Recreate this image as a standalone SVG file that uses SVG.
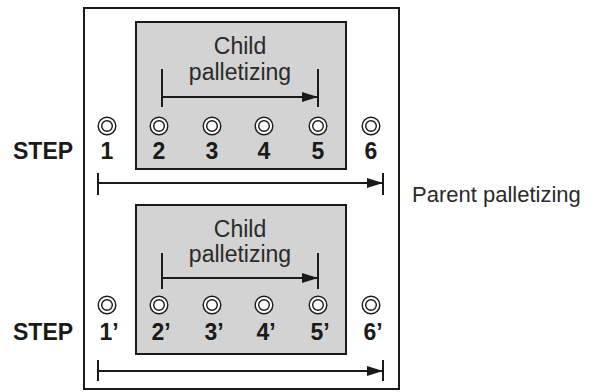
<svg xmlns="http://www.w3.org/2000/svg" width="614" height="392" viewBox="0 0 614 392">
<style>
.frame{fill:#fff;stroke:#1a1a1a;stroke-width:2}
.box{fill:#d3d3d3;stroke:#1a1a1a;stroke-width:2}
.ln{stroke:#1a1a1a;stroke-width:2;fill:none}
.ring{fill:#fff;stroke:#1a1a1a;stroke-width:1.4}
.lbl{font-family:"Liberation Sans",Arial,sans-serif;font-size:23px;fill:#2a2a2a;text-anchor:middle}
.num{font-family:"Liberation Sans",Arial,sans-serif;font-size:23px;font-weight:bold;fill:#1a1a1a;text-anchor:middle}
.step{font-family:"Liberation Sans",Arial,sans-serif;font-size:23px;font-weight:bold;fill:#1a1a1a}
.par{font-family:"Liberation Sans",Arial,sans-serif;font-size:22px;fill:#2a2a2a}
</style>
<defs>
<marker id="ah" viewBox="0 0 16 10" refX="16" refY="5" markerWidth="16" markerHeight="10" markerUnits="userSpaceOnUse" orient="auto">
<path d="M0,0 L16,5 L0,10 Z" fill="#1a1a1a"/>
</marker>
<g id="pt"><circle r="8.8" class="ring"/><circle r="5.3" class="ring"/></g>
</defs>
<rect id="frame" x="84" y="8" width="315" height="381" class="frame"/>
<g id="child-upper">
<rect x="136" y="22" width="210" height="147" class="box"/>
<text class="lbl" x="240" y="54">Child</text>
<text class="lbl" x="240" y="80">palletizing</text>
</g>
<g id="child-lower">
<rect x="136" y="205" width="210" height="149" class="box"/>
<text class="lbl" x="240" y="237">Child</text>
<text class="lbl" x="240" y="262">palletizing</text>
</g>
<g id="points-upper">
<use href="#pt" x="107" y="126"/><use href="#pt" x="159" y="126"/><use href="#pt" x="212" y="126"/>
<use href="#pt" x="264" y="126"/><use href="#pt" x="318" y="126"/><use href="#pt" x="371" y="126"/>
<text class="num" x="107" y="159">1</text><text class="num" x="159" y="159">2</text><text class="num" x="212" y="159">3</text>
<text class="num" x="264" y="159">4</text><text class="num" x="318" y="159">5</text><text class="num" x="371" y="159">6</text>
</g>
<g id="points-lower">
<use href="#pt" x="107" y="305"/><use href="#pt" x="159" y="305"/><use href="#pt" x="212" y="305"/>
<use href="#pt" x="264" y="305"/><use href="#pt" x="318" y="305"/><use href="#pt" x="371" y="305"/>
<text class="num" x="109" y="340">1’</text><text class="num" x="161" y="340">2’</text><text class="num" x="214" y="340">3’</text>
<text class="num" x="266" y="340">4’</text><text class="num" x="320" y="340">5’</text><text class="num" x="373" y="340">6’</text>
</g>
<g id="step-labels">
<text class="step" x="13" y="159">STEP</text>
<text class="step" x="13" y="340">STEP</text>
<text class="par" x="412" y="202">Parent palletizing</text>
</g>
<g id="connectors">
<path class="ln" d="M162,69 V107 M318,69 V107"/>
<line class="ln" x1="162" y1="97" x2="318" y2="97" marker-end="url(#ah)"/>
<path class="ln" d="M98,173 V195 M383,173 V195"/>
<line class="ln" x1="98" y1="183" x2="383" y2="183" marker-end="url(#ah)"/>
<path class="ln" d="M162,253 V289 M318,253 V289"/>
<line class="ln" x1="162" y1="278" x2="318" y2="278" marker-end="url(#ah)"/>
<path class="ln" d="M98,360 V381 M383,360 V381"/>
<line class="ln" x1="98" y1="371" x2="383" y2="371" marker-end="url(#ah)"/>
</g>
</svg>
